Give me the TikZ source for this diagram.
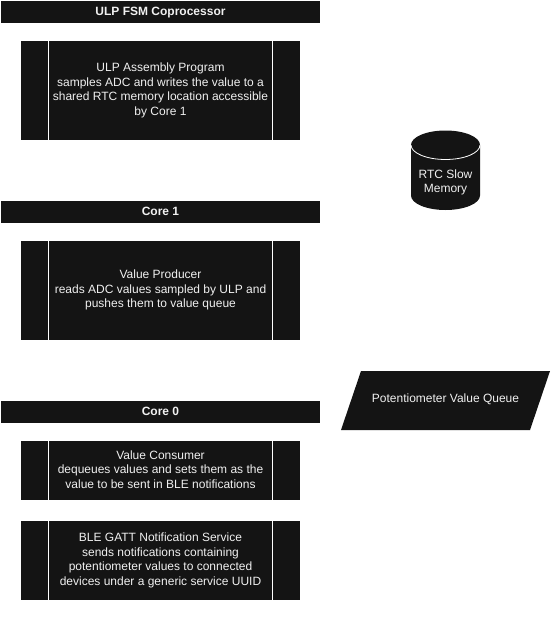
\documentclass[tikz,border=0pt]{standalone}
\usepackage{fontspec}
\setmainfont{Liberation Sans}
\definecolor{boxfill}{HTML}{141414}
\definecolor{ink}{HTML}{F0F0F0}
\tikzset{
  x=1pt,y=-1pt,
  txt/.style={text=ink,font=\fontsize{12}{14.5}\selectfont,align=center,inner sep=0pt},
  headtxt/.style={text=ink,font=\fontsize{12}{14.5}\selectfont\bfseries,align=center,inner sep=0pt,anchor=base},
  fillshape/.style={fill=boxfill,draw=none},
  divider/.style={draw=white,line width=1pt},
}
\newcommand{\headerbar}[3]{%
  \fill[fillshape] (1,#1) rectangle (320,#1+22);
  \node[headtxt] (#2) at (160.5,#1+14.5) {#3};
}
\newcommand{\procbox}[5]{%
  \fill[fillshape] (21,#1) rectangle (300,#2);
  \draw[divider] (48.5,#1) -- (48.5,#2);
  \draw[divider] (272.5,#1) -- (272.5,#2);
  \node[txt] (#3) at (160.5,{(#1+#2)/2+#4}) {#5};
}
\begin{document}
\begin{tikzpicture}
\useasboundingbox (0,0) rectangle (551,621);
\fill[white] (0,0) rectangle (551,621);
\headerbar{1}{h1}{ULP FSM Coprocessor}
\headerbar{201}{h2}{Core 1}
\headerbar{401}{h3}{Core 0}
\procbox{41}{140}{ulp}{0}{ULP Assembly Program\\samples ADC and writes the value to a\\shared RTC memory location accessible\\by Core 1}
\procbox{241}{340}{prod}{-0.5}{Value Producer\\reads ADC values sampled by ULP and\\pushes them to value queue}
\procbox{441}{500}{cons}{-1}{Value Consumer\\dequeues values and sets them as the\\value to be sent in BLE notifications}
\procbox{521}{600}{ble}{0}{BLE GATT Notification Service\\sends notifications containing\\potentiometer values to connected\\devices under a generic service UUID}
% RTC Slow Memory cylinder
\fill[fillshape] (411,145) arc[x radius=34.5,y radius=14.5,start angle=180,end angle=360] -- (480,195.5) arc[x radius=34.5,y radius=14.5,start angle=0,end angle=180] -- cycle;
\draw[divider,line width=0.8pt] (411,145) arc[x radius=34.5,y radius=14.5,start angle=180,end angle=0];
\node[txt] (rtc) at (445.5,182.6) {RTC Slow\\Memory};
% Queue
\fill[fillshape] (361,371) -- (550,371) -- (530,430) -- (341,430) -- cycle;
\node[txt] (queue) at (445.5,399) {Potentiometer Value Queue};
\end{tikzpicture}
\end{document}
